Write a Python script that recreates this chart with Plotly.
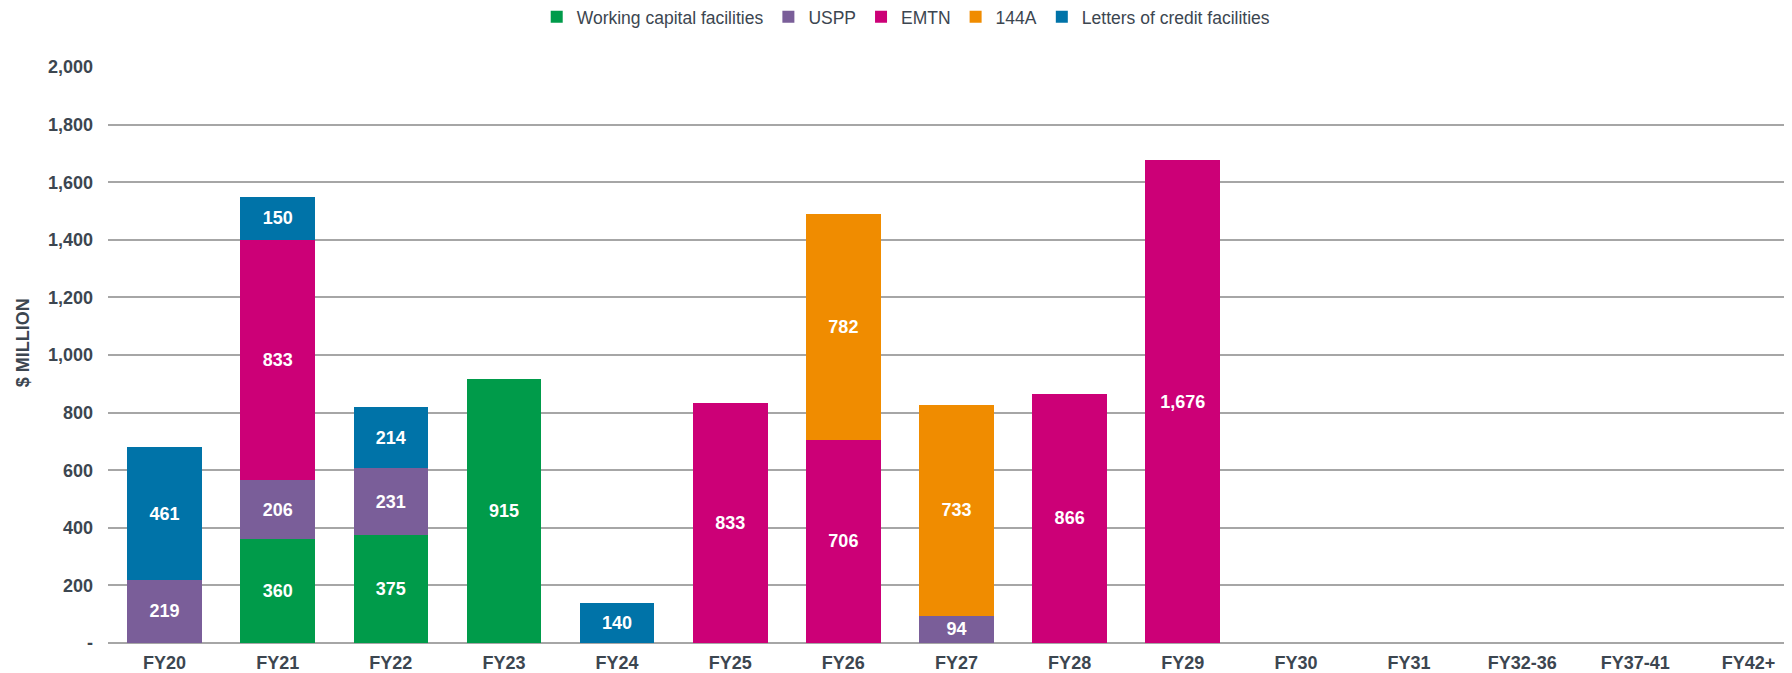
import plotly.graph_objects as go

anos = ["FY20", "FY21", "FY22", "FY23", "FY24", "FY25", "FY26", "FY27",
        "FY28", "FY29", "FY30", "FY31", "FY32-36", "FY37-41", "FY42+"]

capital_giro = [None, 360, 375, 915, None, None, None, None, None, None, None, None, None, None, None]
uspp = [219, 206, 231, None, None, None, None, 94, None, None, None, None, None, None, None]
emtn = [None, 833, None, None, None, 833, 706, None, 866, 1676, None, None, None, None, None]
a144 = [None, None, None, None, None, None, 782, 733, None, None, None, None, None, None, None]
cartas_credito = [461, 150, 214, None, 140, None, None, None, None, None, None, None, None, None, None]

y_ticks = [0, 200, 400, 600, 800, 1000, 1200, 1400, 1600, 1800, 2000]
y_labels = ["-", "200", "400", "600", "800", "1,000", "1,200", "1,400", "1,600", "1,800", "2,000"]

series = [
    ("Working capital facilities", capital_giro, "#009b4a"),
    ("USPP", uspp, "#7a5e99"),
    ("EMTN", emtn, "#cc0077"),
    ("144A", a144, "#f08c00"),
    ("Letters of credit facilities", cartas_credito, "#0073a8"),
]

fonte = "Liberation Sans, Arial"
cor_texto = "#3c4650"

fig = go.Figure()
for nome, valores, cor in series:
    fig.add_trace(go.Bar(
        x=anos, y=valores, name=nome,
        marker=dict(color=cor, line=dict(width=0)),
        width=0.66,
        texttemplate="%{y:,.0f}", textposition="inside",
        insidetextanchor="middle", textangle=0,
        textfont=dict(color="white", size=18, family=fonte, weight="bold"),
    ))

# a página tem margem de 8px no body, por isso as margens descontam esse deslocamento
fig.update_layout(
    barmode="stack",
    width=1792, height=673,
    plot_bgcolor="white", paper_bgcolor="white",
    margin=dict(l=100, r=8, t=59, b=38, autoexpand=False),
    font=dict(family=fonte, color=cor_texto),
    legend=dict(
        orientation="h", x=0.474, xanchor="center", y=1.087, yanchor="middle",
        font=dict(size=17.5, color=cor_texto), traceorder="normal",
    ),
    xaxis=dict(
        range=[-0.5, 14.385], showgrid=False, ticks="", automargin=False,
        tickfont=dict(size=18, weight="bold", color=cor_texto),
        ticklabelstandoff=7,
        showline=False,
    ),
    yaxis=dict(
        range=[0, 2000], tickvals=y_ticks, ticktext=y_labels, automargin=False,
        showgrid=True, gridcolor="#a6a6a6", gridwidth=2,
        zeroline=True, zerolinecolor="#a6a6a6", zerolinewidth=2,
        tickfont=dict(size=18, weight="bold", color=cor_texto),
        ticklabelstandoff=14,
    ),
    annotations=[dict(
        text="<b>$ MILLION</b>", xref="paper", yref="paper",
        x=-0.0508, y=0.521, xanchor="center", yanchor="middle",
        textangle=-90, showarrow=False,
        font=dict(size=18, color=cor_texto, family=fonte),
    )],
)

fig.write_html("out.html")
